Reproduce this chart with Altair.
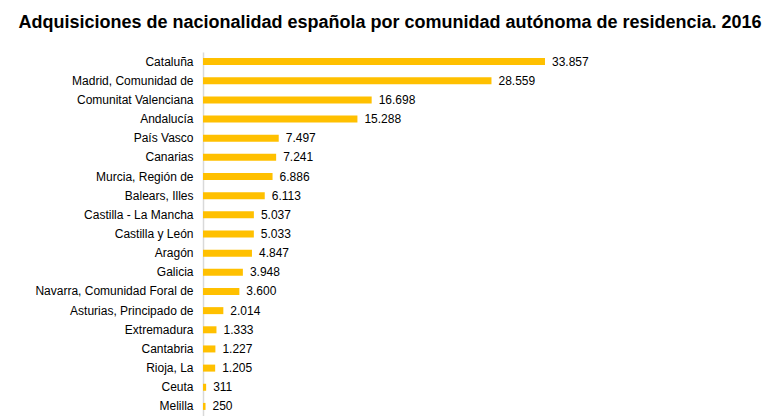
import altair as alt
import pandas as pd

comunidades = [
    "Cataluña", "Madrid, Comunidad de", "Comunitat Valenciana", "Andalucía",
    "País Vasco", "Canarias", "Murcia, Región de", "Balears, Illes",
    "Castilla - La Mancha", "Castilla y León", "Aragón", "Galicia",
    "Navarra, Comunidad Foral de", "Asturias, Principado de", "Extremadura",
    "Cantabria", "Rioja, La", "Ceuta", "Melilla",
]
valores = [33857, 28559, 16698, 15288, 7497, 7241, 6886, 6113, 5037, 5033,
           4847, 3948, 3600, 2014, 1333, 1227, 1205, 311, 250]

df = pd.DataFrame({
    "comunidad": comunidades,
    "valor": valores,
    "etiqueta": [f"{v:,}".replace(",", ".") for v in valores],
})

FONT = "Liberation Sans"

y = alt.Y("comunidad:N", sort=comunidades, title=None,
          scale=alt.Scale(paddingInner=0.0, paddingOuter=0.0),
          axis=alt.Axis(ticks=False, domainColor="#d9d9d9", domainWidth=1.5,
                        labelPadding=10, labelFontSize=12, labelFont=FONT,
                        labelColor="#000000"))
x = alt.X("valor:Q", title=None, scale=alt.Scale(domain=[0, 39600]), axis=None)

bars = alt.Chart(df).mark_bar(color="#FFC000", size=7).encode(x=x, y=y)
text = alt.Chart(df).mark_text(align="left", baseline="middle", dx=7,
                               fontSize=12, font=FONT, color="#000000").encode(
    x=x, y=y, text="etiqueta:N")

chart = (bars + text).properties(
    width=400, height=364,
    autosize=alt.AutoSizeParams(type="none"),
    padding={"left": 195, "top": 44, "right": 168, "bottom": 0},
    title=alt.TitleParams(
        "Adquisiciones de nacionalidad española por comunidad autónoma de residencia. 2016",
        font=FONT, fontSize=18, fontWeight="bold", color="#000000",
        anchor="middle", dx=-13, offset=20),
).configure_view(stroke=None)

chart.save("out.html", embed_options={"renderer": "svg", "actions": False})
